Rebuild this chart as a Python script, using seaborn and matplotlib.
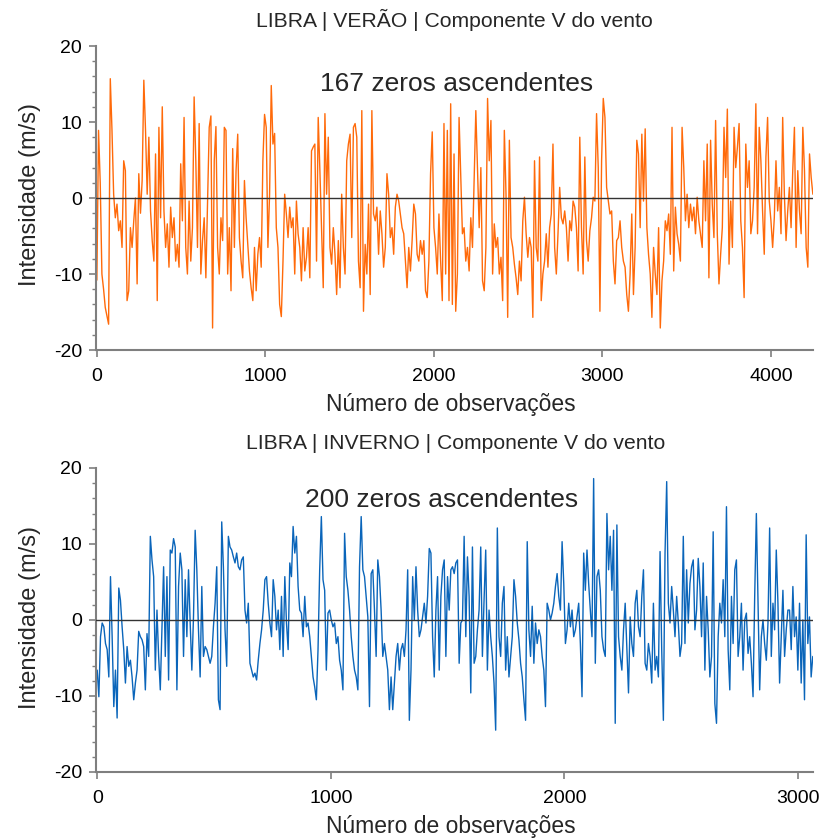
import numpy as np
import pandas as pd
import matplotlib
matplotlib.use("Agg")
import matplotlib.pyplot as plt
from matplotlib.ticker import MultipleLocator
import seaborn as sns

# ---------------- data ----------------
TITLE_TOP = "LIBRA | VERÃO | Componente V do vento"
TITLE_BOTTOM = "LIBRA | INVERNO | Componente V do vento"
NOTE_TOP = "167 zeros ascendentes"
NOTE_BOTTOM = "200 zeros ascendentes"
N_OBS_TOP = 4250
N_OBS_BOTTOM = 3064

verao_part1 = [-10.8, 8.9, 2, -10, -12, -14.4, -15.5, -16.6, 15.7, 9, 0.5, -2.6, -0.8, -4.3, -3, -6.5, 4.9, 3.6,
               -13.5, -12.2, -3.9, -6.5, -3, 0, -11.3, 3.2, -2, 2.3, 15.5, 9, 0.5, 8, -1.7, -5.6, -8.3, 5.8,
               -13.5, 9.3, -2.6, 12, -1.7, -6.5, -3.4, -9.1, -1.2, -5.2, -2.6, -8.3, -6.1, -9.1, 4.5, -3,
               10.6, -6.5, -10, -0.4, -8.3, -3.9, 13.3, 4.9, -6.5, 9.8, -10, -5.6, -2.6, -10.5, -0.8, 9.3,
               10.8, -17.1, 4.9, 9.4, -6.5, -10, -2.6, -5.6, 9.3, 8.9, -10, -3.9, -12.2, 6.5, -6.5, 3.6, 8.4,
               -5.2, -8.3, -10.5, 2.3, -2.6, -6.1, -9.6, -11.8, -13.5, -6.5, -12.2, -7.4, -5.2, -9.1, 4.9,
               11, 9.3, -6.5, 0.5, 14.8, 7.1, 8.5, -3.9, -6.5, -14, -15.6, -8.3, 0.5, -2.1, -5.2, -1.2, -3.9,
               -2.6, -10, -0.4, -4.7, -6.5, -10.9, -3.9, -9.6, -7.8, -3.9, -10.5, 6.2, 6.7, 7.1, -8.3, 10.6,
               3.6, -3.9, -11.8, 11.1, 0.5, 8, -6.5, -8.7, -3.9, -7.4, -12.7, -5.6, -11.8, 0.5, -6.5, -10,
               4.9, 7.1, 8.4, -5.2, 9.3, 9.8, 8, -8.3, -11.8, 11.5, -14.9, -6.1, -10, -0.8, -12.7, 11.5,
               -2.1, -3, -1.2, -7.4, -1.7, -4.7, -9.1, -6.5, 3.2, 0.5, -5.2, -3.9, -7.4, -1.2, 0.5, -0.4,
               -2.1, -3.9, -4.7, -8.3, -11.8, -6.5, -9.6, -5.6, -0.8, -2.1, -7.4, -8.3, -5.6, -7.4, -5.6,
               -12.2, -13.1, -8.3, 3.2, 8.7, -3.9, -6.5, -10, -2.1, -8.3, -13.5, 9.8, -10, 8.9, -13.5, 12.4,
               -14]
verao_part2 = [5.8, -14.9, -10.0, 10.6, 2.7, -4.7, -3.9, -8.3, -6.5, -9.6, -2.6, -6.5, 2.7, 11.5, 4.0, -3.9,
               4.0, -10.9, -12.2, -6.5, 13.1, 4.9, 10.2, -10.0, -3.4, -6.5, -5.2, -10.0, -7.8, -13.5, 8.9,
               0.5, -15.7, 7.6, -5.2, -6.5, -8.7, -10.5, -12.7, -8.3, -10.9, -3.0, 0.1, -4.7, -7.8, -5.2,
               -6.5, -15.7, 4.9, -6.5, -8.3, 5.4, -13.5, -10.0, -8.3, -4.7, -9.1, -3.9, -2.1, 7.1, -6.5,
               -10.0, -4.7, 1.4, -2.6, -3.4, -1.7, -3.9, -8.3, -3.0, -4.3, -0.4, -1.2, -3.9, -9.6, 8.0,
               -3.9, -10.0, 5.4, -5.6, -8.3, -4.3, -2.6, 0.1, -0.4, 11.1, 4.0, -14.9, 4.9, 13.1, 10.6, 1.4,
               -0.4, -2.1, -1.7, -8.3, -11.3, -5.6, -5.2, -3.0, -6.5, -8.3, -9.1, -12.7, -14.9, -10.0, -2.1,
               -12.7, -6.5, 7.6, 5.8, -3.9, 8.4, -0.4, 9.1, -3.9, -7.4, -10.0, -15.7, -6.5, -10.0, -12.7,
               -3.9, -17.1, -10.9, -8.3, -3.0, -4.3, -2.1, -7.4, 9.3, -9.6, -1.2, -4.7, -6.1, -8.3, 9.3,
               4.0, -3.0, 0.5, -3.9, -0.8, -3.0, -1.2, -4.7, 0.1, -3.0, -4.7, -6.5, 4.9, -3.0, 7.1, -10.5,
               7.6, -0.8, -5.2, 10.2, -4.7, -11.3, -7.4, -3.9, 9.3, 2.7, 11.7, -8.7, -0.4, -6.5, 9.3, 4.0,
               6.7, 9.8, -3.0, -6.5, -13.1, 7.1, 1.4, 4.9, -4.7, -3.0, 1.4, 12.4, -4.7, 9.3, 4.9, -1.7,
               -7.4, 5.4, 10.6, -0.4, -3.0, -6.5, -2.6, 4.9, -1.7, 1.4, -4.7, 10.6, 0.5, -5.6, -1.7, 1.4,
               -3.9, 3.6, 9.3, -6.5, 3.6, -1.7, -4.7, 9.3, 3.6, -6.5, -9.1, 5.8, 2.7, 0.5]

inverno_part1 = [-6.6, -10.1, -2.2, -0.4, -0.9, -3.1, -3.9, -7.5, 5.7, -2.2, -11.4, -6.6, -12.9, 4.2, 2.6,
                 -0.9, -3.9, -8.3, -3.5, -6.1, -5.3, -7.5, -10.5, -8.3, -6.6, -1.5, -2.2, -2.6, -3.5, -9.2,
                 -1.8, -4.8, 11.0, 7.9, 5.7, -6.6, 1.3, -4.8, -9.2, -0.9, 7.0, -4.8, 5.7, -7.9, 9.2, 8.8,
                 10.7, 9.6, -9.2, 4.4, 8.8, 6.6, -4.8, 5.3, -2.2, 6.6, -0.4, -6.6, 0.4, 11.8, 6.6, -1.3,
                 -7.5, 4.4, -4.8, -3.5, -3.9, -4.8, -5.7, -4.8, -0.9, 2.2, 7.0, -10.5, -11.8, 12.9, 7.0,
                 -1.3, -6.1, 11.0, 9.6, 9.2, 8.3, 7.5, 8.8, 7.0, 6.6, 7.9, 8.3, 1.3, -0.4, 2.2, -5.7, -6.6,
                 -7.5, -7.0, -7.9, -5.3, -3.1, -1.3, 1.3, 5.3, 5.7, 2.2, -0.4, -2.2, 5.3, 3.1, -1.3, 1.3,
                 -3.9, 3.1, -4.8, 5.7, -0.4, -3.9, 7.5, 5.7, 12.3, 8.8, 11.0, 4.4, 1.3, 0.9, -2.2, 3.1,
                 -0.9, -0.4, -2.2, -4.8, -7.5, -8.8, -10.5, -3.9, 6.6, 13.6, 5.3, 3.9, -6.6, 0.9, 1.3, 0,
                 -0.9, -0.4, -3.1, -2.2, -5.3, -6.6, -9.2, 11.4, 5.7, 3.9, 1.3, -2.2, -4.8, -6.6, -7.5, -9.2,
                 7.0, 13.6, 6.6, 5.7, 3.1, 0.4, -11.4, 6.1, 6.6, 1.3, -4.8, 7.9, 5.7, 1.3, -4.8, -3.1, -4.8,
                 -6.6, -11.8, -7.5, -11.8, -8.3, -4.8, -3.1, -6.6, -3.9, -3.1, -4.8, -1.3, 6.6, -13.2, -6.6,
                 5.7, 0, 7.0, 1.3, -2.2, -1.3, 0.4, 2.2, -0.4, 3.1, 9.4, 8.8, -2.2, -7.5, 1.3, 5.7, -6.6, 3.1,
                 6.6, 7.9, -4.8, 5.7, 1.3, 6.6, 7.0, 6.1]
inverno_part2 = [7.5, 7.9, -5.7, -0.4, 0, 11.0, -2.2, 8.3, 3.1, -9.6, 9.6, -5.7, -4.8, -1.3, 1.3, 9.6, -4.8,
                 2.6, 9.2, -6.6, 1.3, -2.2, -4.8, -8.3, -14.5, 12.1, -2.2, -4.8, 2.2, 4.4, -6.6, -2.2, -7.5,
                 -4.8, -2.2, 5.3, 3.1, -0.4, -2.6, -5.7, -7.5, -10.5, -13.2, 10.3, -1.3, -4.8, 1.8, -5.7,
                 -0.4, -3.1, -1.3, -2.2, -4.8, -6.6, -11.4, 2.2, 1.3, 0, 0.9, 2.2, 4.4, 6.1, 3.1, 1.3, 10.3,
                 4.8, -3.1, -1.3, 2.2, -0.9, 1.3, -2.2, -1.3, 0.4, 2.2, -3.1, -10.1, 8.8, 3.9, 9.2, 4.8, 1.3,
                 -2.2, 18.6, -5.7, 5.7, 6.6, 3.9, -2.2, -3.9, -4.8, 14.0, 6.6, 11.0, 3.9, 11.8, -13.6, 12.5,
                 -2.2, -4.8, -6.6, -1.3, 2.2, -3.9, -9.6, 0.4, -3.1, -4.8, 2.2, 3.9, -0.9, -2.2, 3.1, 6.6,
                 -5.7, -6.6, -3.1, -4.8, -8.3, 2.2, -6.6, -4.8, -7.5, 9.0, -3.9, -13.2, 8.8, 18.2, 2.2, -0.4,
                 4.4, 1.3, -2.2, 3.1, -0.4, -4.8, -3.1, 11.0, -3.1, 6.6, -0.4, 4.8, 7.0, 7.9, -1.3, 1.3, 8.1,
                 4.4, -2.2, 7.5, -6.6, 3.1, -1.3, -7.5, -4.8, 11.6, -11.0, -13.6, -2.2, 2.2, -0.4, 5.3, -2.2,
                 14.9, -3.9, -9.2, 3.1, -3.1, 6.6, 7.9, -4.8, -2.2, 2.2, -6.6, 0, 0.9, -4.4, -2.2, -5.7,
                 -10.1, 3.1, 14.0, 2.2, -9.2, -2.2, 0, -3.1, -5.3, -0.4, 12.1, -4.8, 2.2, -1.3, 9.2, 2.2,
                 -8.3, -2.2, 3.9, -4.8, -1.3, 1.3, 1.3, -3.9, 4.4, -2.2, 0.4, -6.6, 2.2, -8.3, 0, -10.5,
                 11.2, -3.1, 0.4, -7.5, -4.8]

# ---------------- build tables ----------------
verao = verao_part1 + verao_part2
inverno = inverno_part1 + inverno_part2
df_top = pd.DataFrame({"obs": np.linspace(0, N_OBS_TOP - 1, len(verao)), "v": verao})
df_bot = pd.DataFrame({"obs": np.linspace(0, N_OBS_BOTTOM - 1, len(inverno)), "v": inverno})

# ---------------- style ----------------
sns.set_style("ticks")
plt.rcParams["font.family"] = ["Liberation Sans", "DejaVu Sans"]
plt.rcParams["axes.unicode_minus"] = False

ORANGE = "#FF6A0A"
BLUE = "#0A65BA"
SPINE = "#7f7f7f"

fig = plt.figure(figsize=(8.25, 8.38), dpi=100)
ax1 = fig.add_axes([0.1164, 0.5823, 0.8691, 0.3628])
ax2 = fig.add_axes([0.1164, 0.0788, 0.8691, 0.3628])


def style_axes(ax, xmax):
    ax.set_xlim(-5, xmax)
    ax.set_ylim(-20, 20)
    ax.axhline(0, color="#333333", lw=1.0, zorder=3)
    ax.yaxis.set_major_locator(MultipleLocator(10))
    ax.yaxis.set_minor_locator(MultipleLocator(2))
    ax.xaxis.set_major_locator(MultipleLocator(1000))
    for s in ("top", "right"):
        ax.spines[s].set_visible(False)
    for s in ("left", "bottom"):
        ax.spines[s].set_color(SPINE)
        ax.spines[s].set_linewidth(1.5)
    ax.tick_params(axis="both", which="major", direction="out", length=5, width=1.2,
                   color=SPINE, labelsize=14, labelcolor="black")
    ax.tick_params(axis="y", which="major", pad=5)
    ax.tick_params(axis="x", which="major", pad=8)
    ax.tick_params(axis="y", which="minor", direction="out", length=3, width=1.0, color=SPINE)
    ax.set_xlabel("")
    ax.set_ylabel("")


sns.lineplot(data=df_top, x="obs", y="v", ax=ax1, color=ORANGE, linewidth=1.0, estimator=None)
sns.lineplot(data=df_bot, x="obs", y="v", ax=ax2, color=BLUE, linewidth=1.0, estimator=None)
style_axes(ax1, N_OBS_TOP)
style_axes(ax2, N_OBS_BOTTOM)

ax1.text(2136, 15.0, NOTE_TOP, ha="center", va="center", fontsize=19, zorder=5)
ax2.text(1476, 15.8, NOTE_BOTTOM, ha="center", va="center", fontsize=19, zorder=5)

fig.text(0.551, 1 - 20 / 838, TITLE_TOP, ha="center", va="center", fontsize=15.2)
fig.text(0.552, 1 - 443 / 838, TITLE_BOTTOM, ha="center", va="center", fontsize=15.2)

for yc in (195, 617):
    fig.text(30 / 825, 1 - yc / 838, "Intensidade (m/s)", rotation=90, ha="center", va="center", fontsize=17)
for yc in (404, 826):
    fig.text(451 / 825, 1 - yc / 838, "Número de observações", ha="center", va="center", fontsize=16.5)

fig.savefig("out.png", dpi=100)
